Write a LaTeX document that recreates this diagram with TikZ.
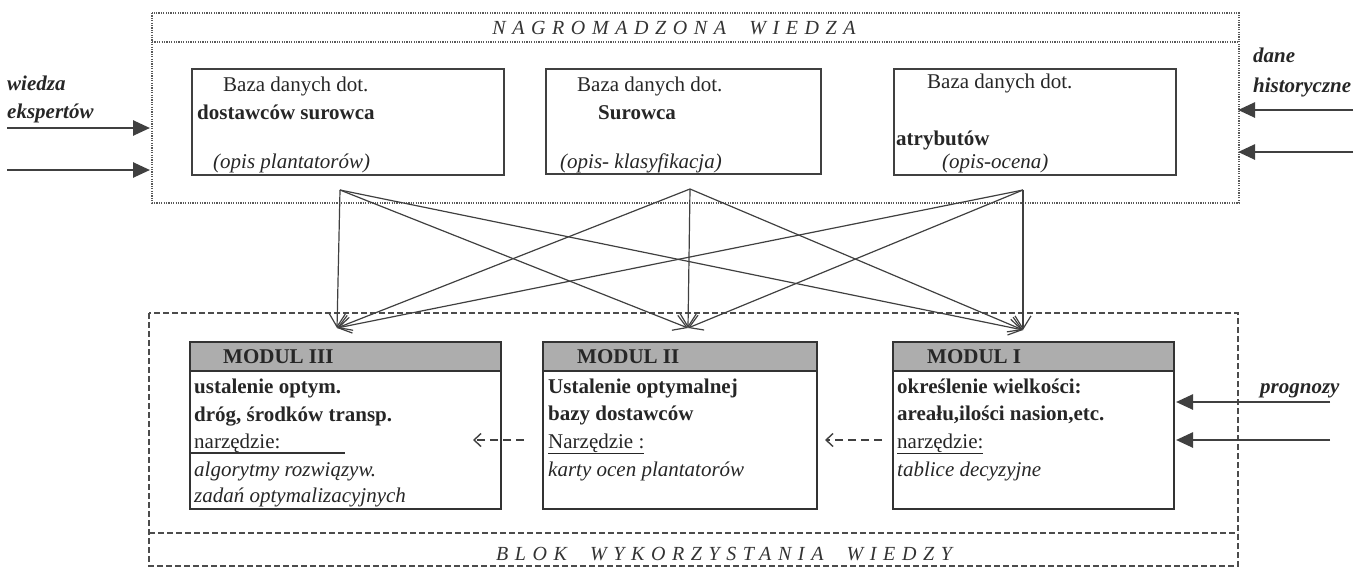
\documentclass[tikz,border=0pt]{standalone}
\usepackage{fontspec}
\setmainfont{Liberation Serif}
\newfontfamily\spacedfont{Liberation Serif}[LetterSpace=33]
\usetikzlibrary{arrows.meta}
\tikzset{
  dbbox/.style={draw=black!75, line width=1.4pt, inner sep=0pt},
  modbox/.style={draw=black!80, line width=1.8pt, inner sep=0pt},
  hdr/.style={fill=black!32, draw=black!80, line width=1.8pt, inner sep=0pt},
  dotbox/.style={draw=black!65, line width=1.3pt, dash pattern=on 1.2pt off 1.2pt},
  dashbox/.style={draw=black!70, line width=1.3pt, dash pattern=on 6pt off 3pt},
  cross/.style={draw=black!75, line width=1.2pt, -{Straight Barb[length=13pt,width=16pt,line width=1.2pt]}},
  bigarrow/.style={draw=black!75, line width=2.6pt, -{Triangle[length=17pt,width=15pt]}},
  dasharrow/.style={draw=black!75, line width=1.4pt, dash pattern=on 8pt off 5pt, -{Straight Barb[length=7pt,width=13pt,line width=1.4pt]}},
  txt/.style={anchor=base west, inner sep=0pt, font=\fontsize{21}{25}\selectfont, text=black!85},
  ttl/.style={anchor=base, inner sep=0pt, font=\fontsize{20}{24}\selectfont\spacedfont\itshape, text=black!80},
}
\begin{document}
\begin{tikzpicture}[x=1pt,y=-1pt]
\useasboundingbox (0,0) rectangle (1361,568);
% top block
\draw[dotbox] (152,13) rectangle (1239,203);
\draw[dotbox] (152,42) -- (1239,42);
\node[ttl] (tt) at (674,34) {NAGROMADZONA\ \ WIEDZA};
% database boxes
\node[dbbox, minimum width=312pt, minimum height=106pt] (b1) at (348,122) {};
\node[dbbox, minimum width=275pt, minimum height=105pt] (b2) at (683.5,121.5) {};
\node[dbbox, minimum width=282pt, minimum height=106pt] (b3) at (1035,122) {};
\node[txt] (b1a) at (223,91) {Baza danych dot.};
\node[txt] (b1b) at (197,119) {\bfseries dostawców surowca};
\node[txt] (b1c) at (213,168) {\itshape (opis plantatorów)};
\node[txt] (b2a) at (577,91) {Baza danych dot.};
\node[txt] (b2b) at (598,119) {\bfseries Surowca};
\node[txt] (b2c) at (560,168) {\itshape (opis- klasyfikacja)};
\node[txt] (b3a) at (927,88) {Baza danych dot.};
\node[txt] (b3b) at (896,145) {\bfseries atrybutów};
\node[txt] (b3c) at (942,168) {\itshape (opis-ocena)};
% left inputs
\node[txt] (we1) at (7,90) {\bfseries\itshape wiedza};
\node[txt] (we2) at (7,118) {\bfseries\itshape ekspertów};
\coordinate (la1) at (7,128); \coordinate (lb1) at (150,128);
\coordinate (la2) at (7,170); \coordinate (lb2) at (150,170);
\draw[bigarrow] (la1) -- (lb1);
\draw[bigarrow] (la2) -- (lb2);
% right inputs
\node[txt] (dh1) at (1253,62) {\bfseries\itshape dane};
\node[txt] (dh2) at (1253,92) {\bfseries\itshape historyczne};
\coordinate (ra1) at (1353,110); \coordinate (rb1) at (1238,110);
\coordinate (ra2) at (1353,152); \coordinate (rb2) at (1238,152);
\draw[bigarrow] (ra1) -- (rb1);
\draw[bigarrow] (ra2) -- (rb2);
% bottom block
\draw[dashbox] (149,313) rectangle (1238,566);
\draw[dashbox] (149,533) -- (1238,533);
\node[ttl] (bt) at (724,560) {BLOK\ \ WYKORZYSTANIA\ \ WIEDZY};
% modules
\node[hdr, minimum width=311pt, minimum height=29pt] (h3) at (345.5,356.5) {};
\node[hdr, minimum width=274pt, minimum height=29pt] (h2) at (680,356.5) {};
\node[hdr, minimum width=281pt, minimum height=29pt] (h1) at (1033.5,356.5) {};
\node[modbox, minimum width=311pt, minimum height=138pt] (m3) at (345.5,440) {};
\node[modbox, minimum width=274pt, minimum height=138pt] (m2) at (680,440) {};
\node[modbox, minimum width=281pt, minimum height=138pt] (m1) at (1033.5,440) {};
\node[txt] (h3t) at (223,363) {\bfseries MODUL III};
\node[txt] (h2t) at (577,363) {\bfseries MODUL II};
\node[txt] (h1t) at (927,363) {\bfseries MODUL I};
% module III text
\node[txt] (m3a) at (194,393) {\bfseries ustalenie optym.};
\node[txt] (m3b) at (194,421) {\bfseries dróg, środków transp.};
\node[txt] (m3c) at (194,448) {narzędzie:};
\draw[draw=black!80, line width=1.3pt] (m3.west |- 0,453) -- (345,453);
\node[txt] (m3d) at (194,476) {\itshape algorytmy rozwiązyw.};
\node[txt] (m3e) at (194,502) {\itshape zadań optymalizacyjnych};
% module II text
\node[txt] (m2a) at (548,393) {\bfseries Ustalenie optymalnej};
\node[txt] (m2b) at (548,420) {\bfseries bazy dostawców};
\node[txt] (m2c) at (548,448) {\underline{Narzędzie :}};
\node[txt] (m2d) at (548,476) {\itshape karty ocen plantatorów};
% module I text
\node[txt] (m1a) at (897,393) {\bfseries określenie wielkości:};
\node[txt] (m1b) at (897,420) {\bfseries areału,ilości nasion,etc.};
\node[txt] (m1c) at (897,448) {\underline{narzędzie:}};
\node[txt] (m1d) at (897,476) {\itshape tablice decyzyjne};
% prognozy
\node[txt] (pr) at (1260,393) {\bfseries\itshape prognozy};
\coordinate (pa1) at (1330,402); \coordinate (pb1) at (1176,402);
\coordinate (pa2) at (1330,440); \coordinate (pb2) at (1176,440);
\draw[bigarrow] (pa1) -- (pb1);
\draw[bigarrow] (pa2) -- (pb2);
% dashed arrows between modules
\coordinate (d1a) at (882,440); \coordinate (d1b) at (825,440);
\coordinate (d2a) at (524,440); \coordinate (d2b) at (473,440);
\draw[dasharrow] (d1a) -- (d1b);
\draw[dasharrow] (d2a) -- (d2b);
% cross arrows
\coordinate (s1) at (340,190);
\coordinate (s2) at (690,189);
\coordinate (s3) at (1023,190);
\coordinate (t1) at (337,328);
\coordinate (t2) at (688,328);
\coordinate (t3) at (1023,330);
\foreach \s in {s1,s2,s3}{
  \foreach \t in {t1,t2,t3}{
    \draw[cross] (\s) -- (\t);
  }
}
\end{tikzpicture}
\end{document}
